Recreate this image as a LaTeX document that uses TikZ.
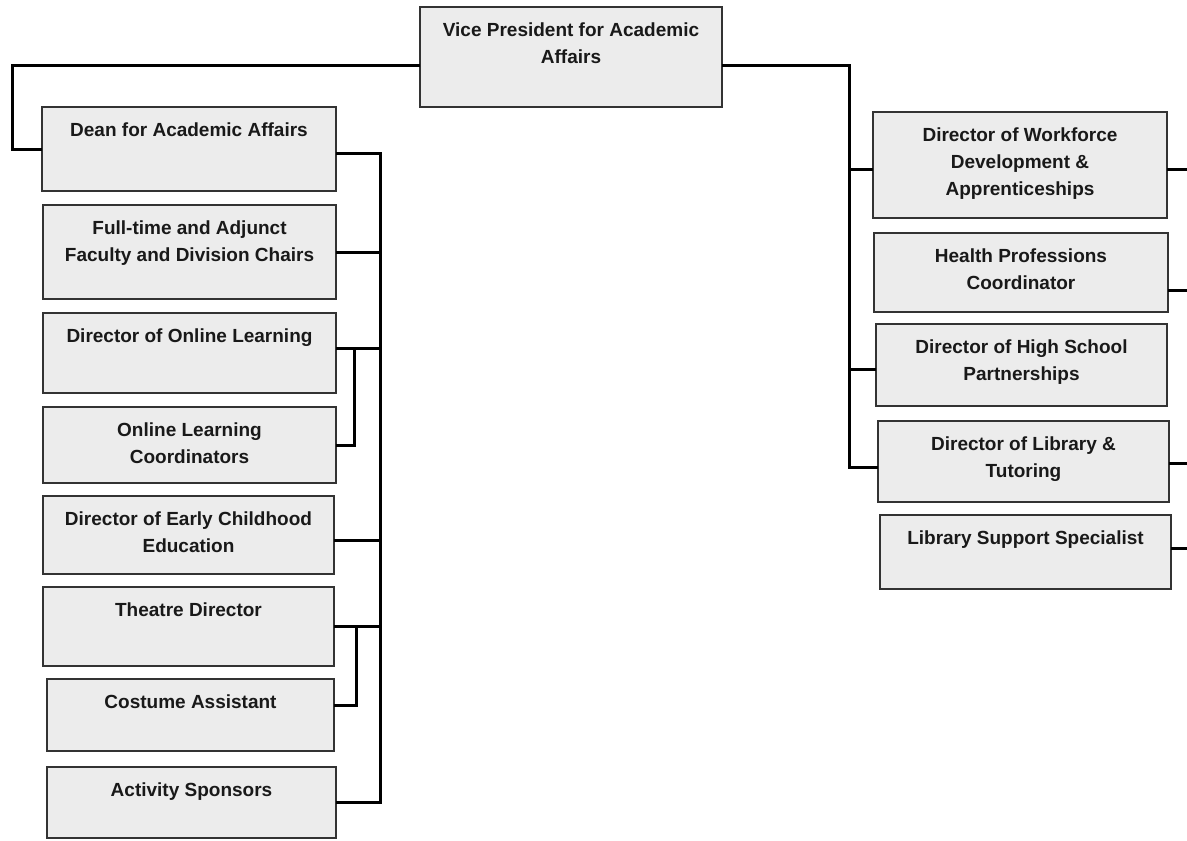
\documentclass[tikz,border=0pt]{standalone}
\usepackage{fontspec}
\setmainfont{Liberation Sans}
\usetikzlibrary{positioning}

\begin{document}
\begin{tikzpicture}[x=0.5pt,y=-0.5pt,
  unit/.style={draw=black!80,line width=1pt,fill=gray!15,inner sep=0pt,outer sep=0pt},
  caption/.style={inner sep=0pt,align=center,text=black!90,
    font=\bfseries\fontsize{9.5}{13.5}\selectfont},
  link/.style={line width=1.5pt}]
\useasboundingbox (0,0) rectangle (1187,840);
% top
\node[unit,minimum width=151pt,minimum height=50pt] (vp) at (571,57) {};
% left column
\node[unit,minimum width=147pt,minimum height=42pt] (dean) at (189,149) {};
\node[unit,minimum width=146.5pt,minimum height=47pt] (fac) at (189.5,252) {};
\node[unit,minimum width=146.5pt,minimum height=40pt] (dol) at (189.5,353) {};
\node[unit,minimum width=146.5pt,minimum height=38pt] (olc) at (189.5,445) {};
\node[unit,minimum width=145.5pt,minimum height=39pt] (ecd) at (188.5,535) {};
\node[unit,minimum width=145.5pt,minimum height=39.5pt] (thd) at (188.5,626.5) {};
\node[unit,minimum width=143.5pt,minimum height=36pt] (cos) at (190.5,715) {};
\node[unit,minimum width=144.5pt,minimum height=35.5pt] (act) at (191.5,802.5) {};
% right column
\node[unit,minimum width=147pt,minimum height=53pt] (wfd) at (1020,165) {};
\node[unit,minimum width=147pt,minimum height=39.5pt] (hpc) at (1021,272.5) {};
\node[unit,minimum width=145.5pt,minimum height=41pt] (hsp) at (1021.5,365) {};
\node[unit,minimum width=145.5pt,minimum height=40.5pt] (lib) at (1023.5,461.5) {};
\node[unit,minimum width=145.5pt,minimum height=37pt] (lss) at (1025.5,552) {};
% titles
\node[caption,below=7.5pt of vp.north] (vp-t) {Vice President for Academic\\Affairs};
\node[caption,below=7.5pt of dean.north] (dean-t) {Dean for Academic Affairs};
\node[caption,below=7.5pt of fac.north] (fac-t) {Full-time and Adjunct\\Faculty and Division Chairs};
\node[caption,below=7.5pt of dol.north] (dol-t) {Director of Online Learning};
\node[caption,below=7.5pt of olc.north] (olc-t) {Online Learning\\Coordinators};
\node[caption,below=7.5pt of ecd.north] (ecd-t) {Director of Early Childhood\\Education};
\node[caption,below=7.5pt of thd.north] (thd-t) {Theatre Director};
\node[caption,below=7.5pt of cos.north] (cos-t) {Costume Assistant};
\node[caption,below=7.5pt of act.north] (act-t) {Activity Sponsors};
\node[caption,below=7.5pt of wfd.north] (wfd-t) {Director of Workforce\\Development \&\\Apprenticeships};
\node[caption,below=7.5pt of hpc.north] (hpc-t) {Health Professions\\Coordinator};
\node[caption,below=7.5pt of hsp.north] (hsp-t) {Director of High School\\Partnerships};
\node[caption,below=7.5pt of lib.north] (lib-t) {Director of Library \&\\Tutoring};
\node[caption,below=7.5pt of lss.north] (lss-t) {Library Support Specialist};
% buses
\coordinate (vpl) at (12,66);
\coordinate (vpr) at (849,66);
\coordinate (lbus) at (380,0);
\coordinate (edge) at (1187,0);
% vp to both sides
\draw[link] (vp.west |- vpl) -- (vpl) |- (dean.west);
\draw[link] (vp.east |- vpr) -- (vpr) |- ([yshift=-3pt]lib.west);
\foreach \n in {wfd,hsp}
  \draw[link] ([yshift=-2pt]\n.west) -- ([yshift=-2pt]\n.west -| vpr);
% dean's bus
\draw[link] ([yshift=-2pt]dean.east) -| (lbus |- act.east) -- (act.east);
\draw[link] (fac.east) -- (fac.east -| lbus);
\draw[link] ([yshift=2.5pt]dol.east) -- ([yshift=2.5pt]dol.east -| lbus);
\draw[link] ([yshift=-2.5pt]ecd.east) -- ([yshift=-2.5pt]ecd.east -| lbus);
\draw[link] (thd.east) -- (thd.east -| lbus);
\draw[link] ([yshift=2.5pt]dol.east) -| ([xshift=9pt]olc.east) -- (olc.east);
\draw[link] (thd.east) -| ([xshift=11pt,yshift=5pt]cos.east) -- ([yshift=5pt]cos.east);
% stubs off the right edge
\draw[link] ([yshift=-2pt]wfd.east) -- ([yshift=-2pt]wfd.east -| edge);
\draw[link] ([yshift=-9pt]hpc.east) -- ([yshift=-9pt]hpc.east -| edge);
\draw[link] ([yshift=-1pt]lib.east) -- ([yshift=-1pt]lib.east -| edge);
\draw[link] ([yshift=2pt]lss.east) -- ([yshift=2pt]lss.east -| edge);
\end{tikzpicture}
\end{document}
